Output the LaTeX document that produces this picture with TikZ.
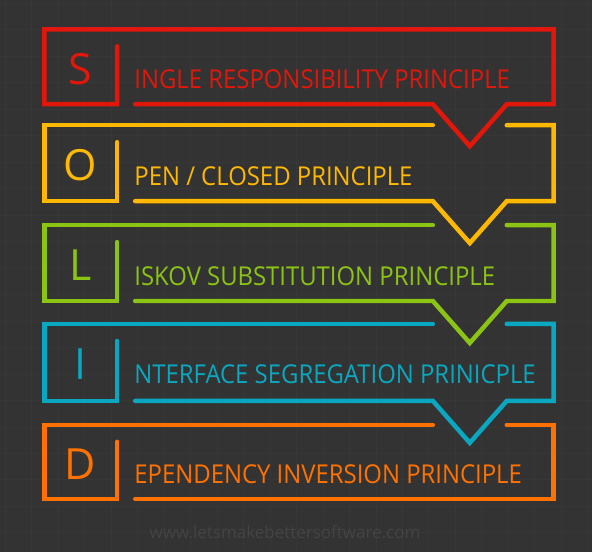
\documentclass[tikz,border=0pt]{standalone}
\usepackage{fontspec}
\setmainfont{Open Sans}
\usepackage{tikz}

\definecolor{bgdark}{HTML}{333333}
\definecolor{gridgray}{HTML}{373737}
\definecolor{sred}{HTML}{E2170B}
\definecolor{oyellow}{HTML}{FFB800}
\definecolor{lgreen}{HTML}{8CC414}
\definecolor{iblue}{HTML}{0AA8C0}
\definecolor{dorange}{HTML}{FF7200}
\definecolor{urlgray}{HTML}{444444}

\begin{document}
\begin{tikzpicture}[x=1pt,y=-1pt,
  frame/.style={line width=4.5pt,line cap=round,line join=miter},
  initial/.style={inner sep=0pt,font=\fontsize{43}{43}\selectfont},
  principle/.style={anchor=base west,inner sep=0pt,font=\fontsize{26}{26}\selectfont}]
\fill[bgdark] (0,0) rectangle (592,552);
\foreach \g in {5,31.5,...,592} \draw[gridgray,line width=0.7pt] (\g,0) -- (\g,552);
\foreach \g in {3,29.5,...,552} \draw[gridgray,line width=0.7pt] (0,\g) -- (592,\g);
% S
\draw[frame,sred] (117,46) -- (117,104) -- (44,104) -- (44,29) -- (554,29) -- (554,104) -- (507,104) -- (470,146) -- (433,104) -- (135,104);
\node[initial,sred] (lS) at (80,69) {S};
\node[principle,sred] (tS) at (134,88) {\scalebox{0.92}[1]{INGLE RESPONSIBILITY PRINCIPLE}};
% O
\draw[frame,oyellow] (117,142) -- (117,201) -- (44,201) -- (44,125) -- (433,125);
\draw[frame,oyellow] (507,125) -- (554,125) -- (554,201) -- (507,201) -- (470,243) -- (433,201) -- (135,201);
\node[initial,oyellow] (lO) at (80,165) {O};
\node[principle,oyellow] (tO) at (134,185) {\scalebox{0.92}[1]{PEN / CLOSED PRINCIPLE}};
% L
\draw[frame,lgreen] (117,242) -- (117,301) -- (44,301) -- (44,225) -- (433,225);
\draw[frame,lgreen] (507,225) -- (554,225) -- (554,301) -- (507,301) -- (470,343) -- (433,301) -- (135,301);
\node[initial,lgreen] (lL) at (80,265) {L};
\node[principle,lgreen] (tL) at (134,285) {\scalebox{0.92}[1]{ISKOV SUBSTITUTION PRINCIPLE}};
% I
\draw[frame,iblue] (117,341) -- (117,401) -- (44,401) -- (44,324) -- (433,324);
\draw[frame,iblue] (507,324) -- (554,324) -- (554,401) -- (507,401) -- (470,443) -- (433,401) -- (135,401);
\node[initial,iblue] (lI) at (80,364) {I};
\node[principle,iblue] (tI) at (134,384) {\scalebox{0.92}[1]{NTERFACE SEGREGATION PRINICPLE}};
% D
\draw[frame,dorange] (117,442) -- (117,499) -- (44,499) -- (44,425) -- (433,425);
\draw[frame,dorange] (507,425) -- (554,425) -- (554,499) -- (135,499);
\node[initial,dorange] (lD) at (80,464) {D};
\node[principle,dorange] (tD) at (134,484) {\scalebox{0.92}[1]{EPENDENCY INVERSION PRINCIPLE}};
% footer
\node[urlgray,font=\fontsize{17}{17}\selectfont] (url) at (285,532) {www.letsmakebettersoftware.com};
\end{tikzpicture}
\end{document}
